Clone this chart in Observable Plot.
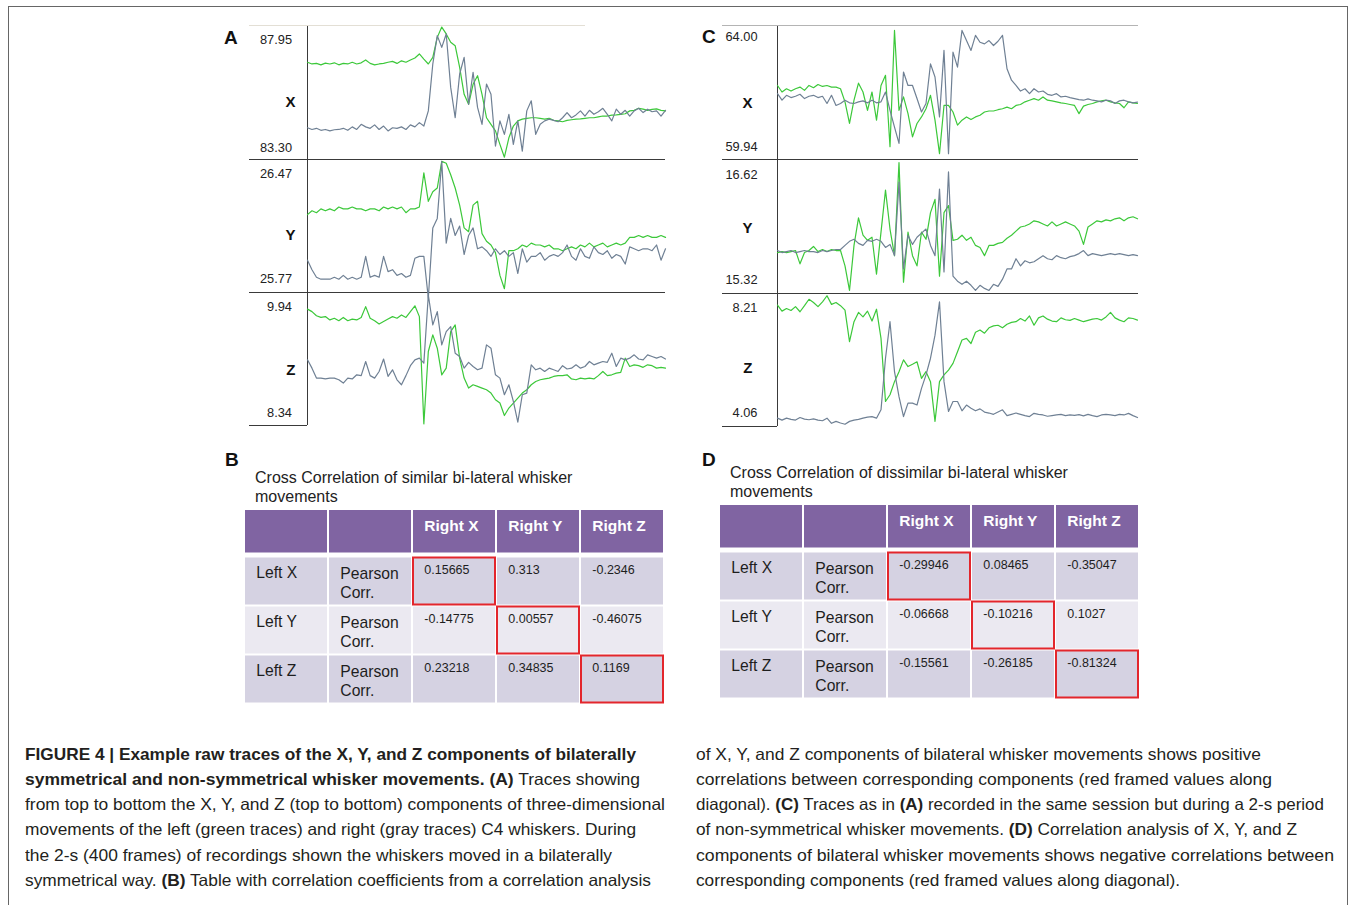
<!DOCTYPE html>
<html><head><meta charset="utf-8">
<script src="https://cdn.jsdelivr.net/npm/d3@7"></script>
<script src="https://cdn.jsdelivr.net/npm/@observablehq/plot@0.6"></script>
<style>
html,body{margin:0;padding:0;background:#fff;}
#root{position:relative;width:1356px;height:905px;overflow:hidden;font-family:"Liberation Sans",Arial,sans-serif;color:#222;}
.frame{position:absolute;left:8px;top:6px;width:1340px;height:1000px;border:1px solid #666;box-sizing:border-box;}
.letter{position:absolute;font-weight:bold;font-size:19px;line-height:19px;color:#111;}
.ttl{position:absolute;font-size:16px;line-height:19px;color:#222;white-space:nowrap;}
.cap{position:absolute;font-size:16.5px;line-height:25.2px;color:#231f20;}
.cap .ln{height:25.2px;white-space:nowrap;}
.cap .l{display:inline-block;white-space:nowrap;transform-origin:0 50%;}
.pl{position:absolute;}
</style></head>
<body><div id="root">
<div class="frame"></div>
<div class="letter" style="left:224px;top:27.5px">A</div>
<div class="letter" style="left:702px;top:26.5px">C</div>
<div class="letter" style="left:225px;top:449.5px">B</div>
<div class="letter" style="left:702px;top:449.5px">D</div>
<div class="ttl" style="left:255px;top:467.5px">Cross Correlation of similar bi-lateral whisker<br>movements</div>
<div class="ttl" style="left:730px;top:462.5px">Cross Correlation of dissimilar bi-lateral whisker<br>movements</div>
<div class="cap" style="left:25px;top:741.8px">
<div class="ln"><span class="l" data-w="611"><b>FIGURE 4 | Example raw traces of the X, Y, and Z components of bilaterally</b></span></div>
<div class="ln"><span class="l" data-w="615"><b>symmetrical and non-symmetrical whisker movements. (A)</b> Traces showing</span></div>
<div class="ln"><span class="l" data-w="640">from top to bottom the X, Y, and Z (top to bottom) components of three-dimensional</span></div>
<div class="ln"><span class="l" data-w="611">movements of the left (green traces) and right (gray traces) C4 whiskers. During</span></div>
<div class="ln"><span class="l" data-w="587">the 2-s (400 frames) of recordings shown the whiskers moved in a bilaterally</span></div>
<div class="ln"><span class="l" data-w="626">symmetrical way. <b>(B)</b> Table with correlation coefficients from a correlation analysis</span></div>
</div>
<div class="cap" style="left:696px;top:741.8px">
<div class="ln"><span class="l" data-w="565">of X, Y, and Z components of bilateral whisker movements shows positive</span></div>
<div class="ln"><span class="l" data-w="576">correlations between corresponding components (red framed values along</span></div>
<div class="ln"><span class="l" data-w="628">diagonal). <b>(C)</b> Traces as in <b>(A)</b> recorded in the same session but during a 2-s period</span></div>
<div class="ln"><span class="l" data-w="601">of non-symmetrical whisker movements. <b>(D)</b> Correlation analysis of X, Y, and Z</span></div>
<div class="ln"><span class="l" data-w="638">components of bilateral whisker movements shows negative correlations between</span></div>
<div class="ln"><span class="l" data-w="484">corresponding components (red framed values along diagonal).</span></div>
</div>
</div>
<script>
// ---------- data ----------
const frames = [0,5,10,15,20,25,30,35,40,45,50,55,60,65,70,75,80,85,90,95,100,105,110,115,120,125,130,135,140,145,150,155,160,165,170,175,180,185,190,195,200,205,210,215,220,225,230,235,240,245,250,255,260,265,270,275,280,285,290,295,300,305,310,315,320,325,330,335,340,345,350,355,360,365,370,375,380,385,390,395,400];

const components = ["X","Y","Z"];
const ticksA = [["87.95","83.30"],["26.47","25.77"],["9.94","8.34"]];
const ticksC = [["64.00","59.94"],["16.62","15.32"],["8.21","4.06"]];

// Panel A (symmetrical) — left whisker (green) and right whisker (gray)
const aXleft = [86.70,86.64,86.66,86.61,86.67,86.64,86.68,86.61,86.66,86.64,
86.70,86.64,86.68,86.78,86.66,86.61,86.64,86.66,86.70,86.73,
86.66,86.75,86.70,86.78,86.85,86.99,86.81,86.64,86.87,87.57,
87.93,87.69,87.40,87.28,86.52,85.58,85.23,85.93,86.23,85.58,
84.76,84.53,84.30,83.83,83.38,84.06,84.47,84.65,84.71,84.74,
84.76,84.76,84.74,84.71,84.74,84.67,84.65,84.62,84.67,84.69,
84.71,84.72,84.74,84.76,84.76,84.79,84.82,84.82,84.85,84.86,
84.88,84.90,85.00,85.02,85.09,85.06,85.02,85.05,85.07,85.02,
85.00];
const aXright = [84.41,84.35,84.39,84.32,84.35,84.30,84.34,84.35,84.39,84.32,
84.44,84.35,84.53,84.44,84.39,84.51,84.35,84.47,84.30,84.41,
84.39,84.44,84.35,84.51,84.44,84.59,84.47,85.00,86.64,87.63,
87.22,87.69,85.82,84.76,86.29,86.87,85.23,86.35,85.12,84.53,
85.94,85.58,83.77,84.65,84.18,84.88,83.83,84.65,83.59,85.00,
85.35,84.18,84.53,84.65,84.71,84.67,84.62,84.76,84.94,84.76,
84.86,85.00,84.82,85.02,84.88,84.97,85.09,84.88,84.65,85.06,
84.88,85.02,84.82,85.00,85.09,84.94,85.06,84.97,85.00,84.82,
85.02];
const aYleft = [26.18,26.20,26.19,26.21,26.20,26.21,26.20,26.22,26.21,26.21,
26.22,26.21,26.21,26.20,26.21,26.21,26.20,26.22,26.21,26.22,
26.21,26.22,26.19,26.21,26.21,26.22,26.40,26.25,26.30,26.32,
26.46,26.45,26.39,26.32,26.23,26.11,26.09,26.23,26.25,26.08,
26.04,26.02,25.98,25.86,25.79,25.99,25.99,26.00,26.02,26.01,
26.03,26.02,26.02,26.01,26.02,26.00,26.00,25.99,26.00,26.01,
26.00,26.02,26.01,26.03,26.01,26.02,26.03,26.01,26.02,26.03,
26.02,26.03,26.06,26.06,26.07,26.06,26.07,26.06,26.06,26.07,
26.06];
const aYright = [25.94,25.89,25.85,25.84,25.84,25.84,25.85,25.84,25.86,25.84,
25.85,25.84,25.85,25.96,25.85,25.86,25.85,25.96,25.88,25.89,
25.86,25.87,25.85,25.86,25.95,25.96,25.96,25.74,26.11,26.16,
26.46,26.03,26.16,26.07,26.12,25.97,26.07,26.11,26.00,26.01,
25.99,25.96,26.00,25.97,25.99,25.96,25.98,25.87,26.00,25.93,
25.96,25.96,25.98,25.94,25.96,25.97,25.96,25.98,26.02,25.96,
25.94,26.00,25.96,25.95,26.01,25.98,25.97,25.99,25.95,25.97,
25.96,25.92,26.01,26.00,25.99,26.00,26.00,25.99,26.02,25.94,
26.00];
const aZleft = [9.74,9.71,9.66,9.64,9.65,9.61,9.63,9.60,9.64,9.60,
9.62,9.61,9.64,9.77,9.63,9.60,9.56,9.59,9.62,9.65,
9.63,9.67,9.64,9.71,9.78,9.65,8.36,9.23,9.43,9.27,
8.95,9.03,9.47,9.55,9.15,8.91,8.79,8.83,8.81,8.79,
8.77,8.73,8.65,8.61,8.46,8.55,8.61,8.67,8.73,8.77,
8.83,8.87,8.89,8.90,8.91,8.93,8.94,8.94,8.95,8.90,
8.89,8.91,8.90,8.91,8.90,8.94,8.99,8.94,8.95,8.97,
8.98,9.15,9.05,9.07,9.06,9.04,9.07,9.06,9.03,9.04,
9.03];
const aZright = [9.13,9.03,8.91,8.91,8.90,8.91,8.91,8.89,8.85,8.91,
8.90,8.95,8.94,9.11,8.94,8.91,8.99,9.14,8.93,9.01,
8.89,8.83,8.94,9.06,9.13,9.15,9.09,9.91,9.55,9.71,
9.31,9.47,9.53,9.21,9.17,9.03,9.10,9.05,9.01,9.03,
9.31,9.27,8.95,8.91,8.71,8.83,8.63,8.38,8.71,8.73,
9.07,9.01,9.03,8.99,9.03,9.01,8.99,9.06,9.02,9.03,
9.07,9.03,9.05,9.11,9.07,9.09,9.11,9.10,9.21,9.05,
9.15,9.13,9.15,9.19,9.14,9.13,9.19,9.17,9.15,9.17,
9.14];

// Panel C (non-symmetrical)
const cXleft = [62.20,62.00,62.10,62.03,62.10,62.15,62.05,62.20,62.13,62.23,
62.17,62.20,62.15,62.15,62.10,61.70,61.04,61.75,62.27,62.00,
61.44,62.00,61.14,62.20,62.51,60.33,63.88,61.44,61.85,61.34,
60.63,61.04,61.24,61.49,61.90,61.14,60.12,61.59,61.59,61.39,
60.99,61.14,61.24,61.16,61.24,61.29,61.39,61.42,61.42,61.46,
61.49,61.54,61.49,61.59,61.62,61.70,61.75,61.80,61.75,61.85,
61.75,61.73,61.70,61.67,61.65,61.62,61.59,61.34,61.57,61.62,
61.65,61.70,61.73,61.75,61.70,61.67,61.65,61.52,61.70,61.67,
61.65];
const cXright = [61.95,61.75,61.90,61.83,61.87,61.93,61.80,61.87,61.90,61.83,
61.87,61.65,61.90,61.59,61.65,61.75,61.67,61.65,61.70,61.73,
61.67,61.75,61.67,61.70,62.00,61.44,60.93,60.43,62.61,62.20,
62.20,61.80,61.39,61.65,62.86,62.46,61.24,63.27,60.12,63.22,
62.76,63.88,63.57,63.27,63.73,63.52,63.47,63.57,63.42,63.55,
63.73,62.71,62.36,62.20,62.03,62.10,61.95,62.10,62.00,62.03,
61.93,61.90,61.95,61.85,61.87,61.83,61.80,61.77,61.75,61.79,
61.75,61.73,61.70,61.75,61.73,61.65,61.73,61.75,61.70,61.67,
61.69];
const cYleft = [15.72,15.73,15.72,15.73,15.74,15.61,15.72,15.74,15.78,15.73,
15.75,15.73,15.75,15.74,15.74,15.59,15.35,15.79,16.06,15.89,
15.84,15.87,15.51,15.92,16.33,15.95,15.69,16.60,15.43,15.92,
15.69,15.59,15.92,15.85,16.11,16.24,15.49,16.11,16.18,15.84,
15.85,15.89,15.84,15.87,15.79,15.77,15.69,15.79,15.79,15.81,
15.82,15.86,15.89,15.93,15.97,15.98,16.00,16.03,16.02,16.00,
15.98,16.02,15.98,16.00,16.02,16.00,15.98,15.93,15.80,15.97,
16.00,16.03,16.02,16.04,16.03,16.05,16.06,16.03,16.06,16.07,
16.05];
const cYright = [15.74,15.72,15.73,15.74,15.72,15.73,15.74,15.73,15.73,15.72,
15.74,15.73,15.74,15.75,15.75,15.79,15.83,15.85,15.81,15.79,
15.84,15.83,15.85,15.83,15.77,15.80,15.69,16.41,15.56,15.89,
15.80,15.87,15.91,15.95,15.79,15.69,16.34,15.53,16.51,15.49,
15.44,15.41,15.44,15.40,15.35,15.40,15.37,15.35,15.41,15.39,
15.46,15.56,15.56,15.66,15.59,15.64,15.62,15.63,15.66,15.69,
15.66,15.65,15.69,15.67,15.66,15.68,15.69,15.71,15.74,15.69,
15.71,15.70,15.69,15.70,15.71,15.70,15.71,15.70,15.69,15.70,
15.69];
const cZleft = [7.85,7.66,7.74,7.68,7.80,7.64,7.83,8.03,7.93,7.80,
7.95,8.14,7.87,7.93,7.83,7.69,6.71,7.33,7.62,7.48,
7.66,7.35,7.72,6.81,4.84,5.05,5.46,5.77,6.14,5.93,
6.00,6.08,5.56,5.77,5.46,4.22,5.46,5.67,5.82,6.03,
6.39,6.76,6.81,6.65,7.00,7.07,6.97,7.14,7.20,7.22,
7.14,7.25,7.31,7.33,7.43,7.35,7.51,7.22,7.45,7.51,
7.41,7.35,7.33,7.45,7.39,7.37,7.43,7.38,7.33,7.37,
7.41,7.43,7.38,7.48,7.62,7.45,7.38,7.33,7.45,7.43,
7.38];
const cZright = [4.32,4.26,4.32,4.28,4.26,4.34,4.29,4.27,4.30,4.26,
4.24,4.32,4.16,4.22,4.17,4.13,4.22,4.26,4.28,4.32,
4.35,4.37,4.32,4.58,6.19,7.33,5.77,4.99,4.37,4.79,
4.79,4.73,5.25,5.67,6.19,6.91,7.95,5.46,4.53,4.84,
4.84,4.55,4.73,4.63,4.55,4.61,4.51,4.48,4.44,4.51,
4.58,4.40,4.44,4.48,4.44,4.40,4.37,4.47,4.44,4.42,
4.38,4.40,4.42,4.44,4.40,4.42,4.41,4.43,4.39,4.44,
4.40,4.37,4.42,4.44,4.42,4.40,4.44,4.42,4.47,4.40,
4.34];

// Tables B and D
const rightCols = ["Right X","Right Y","Right Z"];
const leftRows = ["Left X","Left Y","Left Z"];
const statLabel = "Pearson\nCorr.";
const corrB = [[0.15665,0.313,-0.2346],[-0.14775,0.00557,-0.46075],[0.23218,0.34835,0.1169]];
const corrD = [[-0.29946,0.08465,-0.35047],[-0.06668,-0.10216,0.1027],[-0.15561,-0.26185,-0.81324]];

// ---------- drawing ----------
const GREEN = "#3cc83a", GRAY = "#6f8094", FONT = "'Liberation Sans', Arial, sans-serif";
const root = document.getElementById("root");
function place(node, left, top) {
  const d = document.createElement("div");
  d.className = "pl"; d.style.left = left + "px"; d.style.top = top + "px";
  d.appendChild(node); root.appendChild(d);
}

function trace(cfg) {
  const [hiS, loS] = cfg.ticks;
  const hi = +hiS, lo = +loS;
  const W = 416, inner = W - cfg.ml - cfg.mr;
  const marks = [];
  if (cfg.topLine) marks.push(Plot.ruleY([hi], {stroke: cfg.topLine.color, insetLeft: -cfg.ml, insetRight: cfg.topLine.insetRight, dy: -1}));
  marks.push(Plot.ruleY([lo], {stroke: "#3a3a3a", insetLeft: -cfg.ml, insetRight: cfg.short ? inner : -cfg.mr}));
  marks.push(Plot.ruleX([0], {stroke: "#3a3a3a"}));
  marks.push(Plot.lineY(cfg.left, {x: frames, stroke: GREEN, strokeWidth: 1.2}));
  marks.push(Plot.lineY(cfg.right, {x: frames, stroke: GRAY, strokeWidth: 1.2}));
  marks.push(Plot.text([hi], {y: d => d, text: () => hiS, frameAnchor: "left", textAnchor: "end", dx: cfg.tdx, dy: cfg.tdy[0], fontSize: 12.8, fill: "#222"}));
  marks.push(Plot.text([lo], {y: d => d, text: () => loS, frameAnchor: "left", textAnchor: "end", dx: cfg.tdx, dy: cfg.tdy[1], fontSize: 12.8, fill: "#222"}));
  marks.push(Plot.text([cfg.comp], {frameAnchor: "left", textAnchor: "end", dx: cfg.ldx, dy: cfg.ldy, fontSize: 15, fontWeight: "bold", fill: "#111"}));
  const svg = Plot.plot({
    width: W, height: 133, marginLeft: cfg.ml, marginRight: cfg.mr, marginTop: 0, marginBottom: 0,
    x: {domain: [0, 400], axis: null},
    y: {domain: [lo, hi], axis: null},
    style: {overflow: "visible", background: "transparent", fontFamily: FONT},
    marks
  });
  place(svg, cfg.left0, cfg.top);
}

const A = [[aXleft, aXright], [aYleft, aYright], [aZleft, aZright]];
const C = [[cXleft, cXright], [cYleft, cYright], [cZleft, cZright]];
const topsA = [26, 159, 292], topsC = [26, 159.5, 293];
const tdyA = [[13, -12], [14, -13.5], [14, -13]], tdyC = [[10, -12.6], [14, -13.3], [14.5, -14]];
const ldyA = [9, 9.5, 11], ldyC = [10, 0.7, 8.5];
components.forEach((comp, i) => {
  trace({comp, ticks: ticksA[i], left: A[i][0], right: A[i][1], left0: 249, top: topsA[i], ml: 58, mr: 0,
    tdx: -15.5, tdy: tdyA[i], ldx: -12, ldy: ldyA[i], short: i === 2,
    topLine: i === 0 ? {color: "#e3dfd5", insetRight: 80} : null});
  trace({comp, ticks: ticksC[i], left: C[i][0], right: C[i][1], left0: 722, top: topsC[i], ml: 55, mr: 1,
    tdx: -20, tdy: tdyC[i], ldx: -25, ldy: ldyC[i], short: i === 2,
    topLine: i === 0 ? {color: "#b4b4b4", insetRight: -1} : null});
});

function table(values, left, top) {
  const colKeys = ["row", "stat", ...rightCols];
  const HEAD = "#8064a2", BAND1 = "#d5d2e2", BAND2 = "#ebe9f1", RED = "#e3262c";
  const head = colKeys.map(c => ({c, r: "head", fill: HEAD, txt: rightCols.includes(c) ? c : ""}));
  const body = [];
  leftRows.forEach((r, i) => {
    const fill = i % 2 === 0 ? BAND1 : BAND2;
    body.push({c: "row", r, fill, txt: r, kind: "lab"});
    body.push({c: "stat", r, fill, txt: statLabel, kind: "stat"});
    rightCols.forEach((c, j) => body.push({c, r, fill, txt: String(values[i][j]), kind: "num", diag: i === j}));
  });
  const ins = {insetRight: 2, insetTop: -1.5, insetBottom: 3.5};
  const txt = {x: "c", y: "r", text: "txt", textAnchor: "start", dx: -31.2};
  const svg = Plot.plot({
    width: 422, height: 196, margin: 0,
    x: {domain: colKeys, axis: null, padding: 0},
    y: {domain: ["head", ...leftRows], axis: null, padding: 0},
    color: {type: "identity"},
    style: {overflow: "visible", background: "transparent", fontFamily: FONT},
    marks: [
      Plot.cell(head, {x: "c", y: "r", fill: "fill", insetRight: 2, insetBottom: 6.5}),
      Plot.cell(body, {x: "c", y: "r", fill: "fill", ...ins}),
      Plot.cell(body.filter(d => d.diag), {x: "c", y: "r", fill: "none", stroke: RED, strokeWidth: 2, ...ins}),
      Plot.text(head.filter(d => d.txt), {...txt, dy: -8.8, fill: "white", fontWeight: "bold", fontSize: 15.5}),
      Plot.text(body.filter(d => d.kind === "lab"), {...txt, dy: -11.5, fill: "#1e1e1e", fontSize: 15.7}),
      Plot.text(body.filter(d => d.kind === "stat"), {...txt, dy: -2, lineHeight: 1.22, fill: "#1e1e1e", fontSize: 15.7}),
      Plot.text(body.filter(d => d.kind === "num"), {...txt, dy: -14, fill: "#1e1e1e", fontSize: 12.5})
    ]
  });
  place(svg, left, top);
}
table(corrB, 244, 510);
table(corrD, 719, 505);

// fit caption lines to their column widths
document.querySelectorAll(".cap .l").forEach(el => {
  const w = el.getBoundingClientRect().width;
  el.style.transform = `scaleX(${(+el.dataset.w) / w})`;
});
</script>
</body></html>
